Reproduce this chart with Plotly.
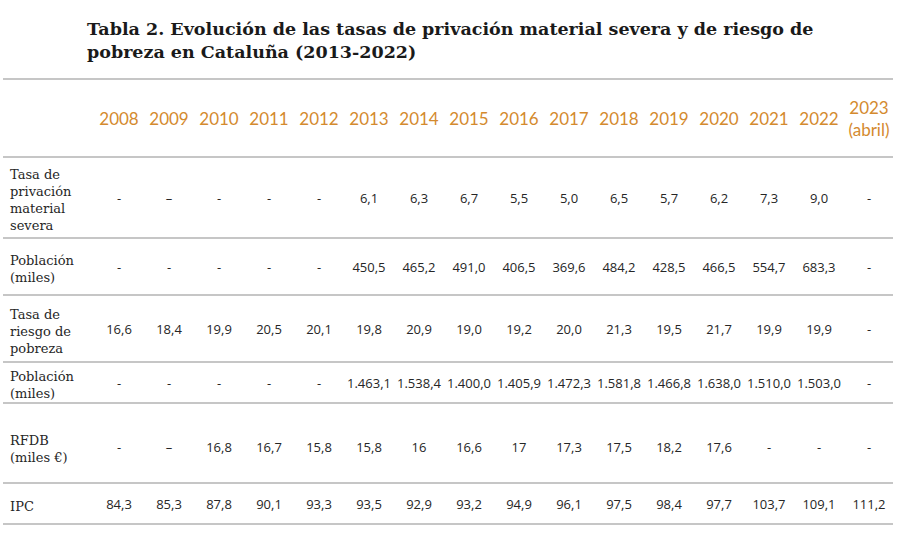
import plotly.graph_objects as go

# ---------------- data ----------------
title_lines = [
    "Tabla 2. Evolución de las tasas de privación material severa y de riesgo de",
    "pobreza en Cataluña (2013-2022)",
]
years = ["2008", "2009", "2010", "2011", "2012", "2013", "2014", "2015",
         "2016", "2017", "2018", "2019", "2020", "2021", "2022", "2023<br>(abril)"]

row_labels = [
    "Tasa de<br>privación<br>material<br>severa",
    "Población<br>(miles)",
    "Tasa de<br>riesgo de<br>pobreza",
    "Población<br>(miles)",
    "RFDB<br>(miles €)",
    "IPC",
]

privacion = ["-", "–", "-", "-", "-", "6,1", "6,3", "6,7", "5,5", "5,0", "6,5", "5,7", "6,2", "7,3", "9,0", "-"]
poblacion_priv = ["-", "-", "-", "-", "-", "450,5", "465,2", "491,0", "406,5", "369,6", "484,2", "428,5", "466,5", "554,7", "683,3", "-"]
riesgo = ["16,6", "18,4", "19,9", "20,5", "20,1", "19,8", "20,9", "19,0", "19,2", "20,0", "21,3", "19,5", "21,7", "19,9", "19,9", "-"]
poblacion_riesgo = ["-", "-", "-", "-", "-", "1.463,1", "1.538,4", "1.400,0", "1.405,9", "1.472,3", "1.581,8", "1.466,8", "1.638,0", "1.510,0", "1.503,0", "-"]
rfdb = ["-", "–", "16,8", "16,7", "15,8", "15,8", "16", "16,6", "17", "17,3", "17,5", "18,2", "17,6", "-", "-", "-"]
ipc = ["84,3", "85,3", "87,8", "90,1", "93,3", "93,5", "92,9", "93,2", "94,9", "96,1", "97,5", "98,4", "97,7", "103,7", "109,1", "111,2"]

rows = [privacion, poblacion_priv, riesgo, poblacion_riesgo, rfdb, ipc]

# ---------------- layout constants ----------------
W, H = 899, 533
col_px0, col_step = 119, 50.0           # pixel centre of first year column, spacing
x_lo = -col_px0 / col_step
x_hi = (W - col_px0) / col_step
def px2x(px):
    return (px - col_px0) / col_step

rule_y = [79, 157, 238, 295, 362, 403, 483, 524]
row_centers = [200, 269, 331, 385, 449, 506]
header_y = 121

ORANGE = "#D48A2E"
TEXT = "#262626"
RULE = "#b3b3b3"

fig = go.Figure()

# header years
fig.add_trace(go.Scatter(
    x=list(range(len(years))), y=[header_y] * len(years),
    mode="text", text=years, textposition="middle center",
    textfont=dict(family="Lato", size=17, color=ORANGE),
    hoverinfo="skip", showlegend=False,
))

# body cells
for vals, yc in zip(rows, row_centers):
    fig.add_trace(go.Scatter(
        x=list(range(len(vals))), y=[yc] * len(vals),
        mode="text", text=vals, textposition="middle center",
        textfont=dict(family="Open Sans", size=13, color=TEXT),
        hoverinfo="skip", showlegend=False,
    ))

annotations = []
# title
annotations.append(dict(
    x=px2x(85), y=17, xref="x", yref="y", xanchor="left", yanchor="top",
    text="<b>" + "<br>".join(title_lines) + "</b>", showarrow=False, align="left",
    font=dict(family="DejaVu Serif", size=17.5, color="#1a1a1a"),
))
# row labels
for lab, yc in zip(row_labels, row_centers):
    annotations.append(dict(
        x=px2x(8), y=yc, xref="x", yref="y", xanchor="left", yanchor="middle",
        text=lab, showarrow=False, align="left",
        font=dict(family="DejaVu Serif", size=13, color=TEXT),
    ))

shapes = [dict(type="line", xref="x", yref="y", x0=px2x(3), x1=px2x(893), y0=y, y1=y,
               line=dict(color=RULE, width=1.5)) for y in rule_y]

fig.update_layout(
    width=W, height=H, margin=dict(l=0, r=0, t=0, b=0),
    paper_bgcolor="white", plot_bgcolor="white",
    xaxis=dict(range=[x_lo, x_hi], visible=False, fixedrange=True),
    yaxis=dict(range=[H, 0], visible=False, fixedrange=True),
    annotations=annotations, shapes=shapes,
)

fig.write_html("out.html", config={"displayModeBar": False},
               post_script="document.body.style.margin='0';document.body.style.overflow='hidden';")
